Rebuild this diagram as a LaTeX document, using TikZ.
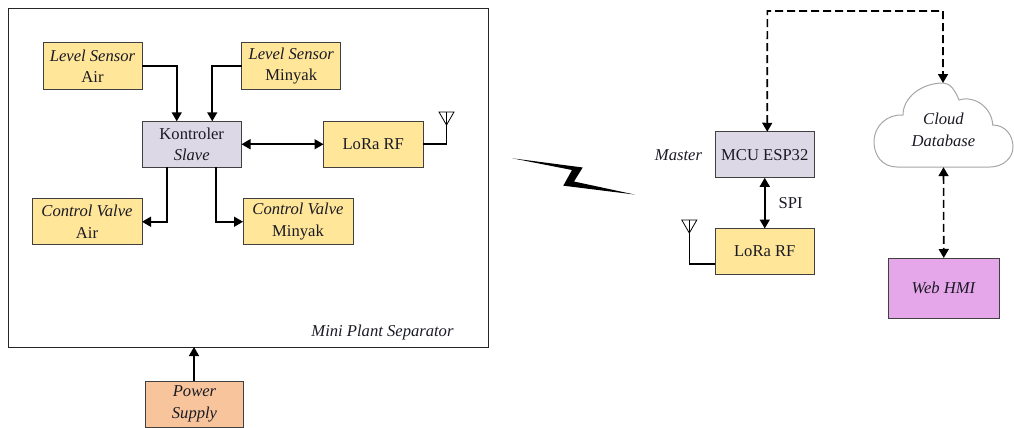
\documentclass[tikz,border=0pt]{standalone}
\usepackage{fontspec}
\setmainfont{Liberation Serif}
\usetikzlibrary{calc,arrows.meta}
\definecolor{boxyellow}{HTML}{FFE699}
\definecolor{boxlilac}{HTML}{DDD8E6}
\definecolor{boxorange}{HTML}{F8C49C}
\definecolor{boxpink}{HTML}{E6A6EA}
\definecolor{boxline}{HTML}{404040}
\definecolor{inktext}{HTML}{1A1A24}
\tikzset{
      tip/.tip={Triangle[length=9pt,width=10pt]},
      block/.style={draw=boxline, line width=1pt, inner sep=0pt, outer sep=0pt, align=center,
                  font=\fontsize{16.6}{21.5}\selectfont, text=inktext},
      sensor/.style={block, fill=boxyellow, minimum height=46pt},
      controller/.style={block, fill=boxlilac, minimum width=99.5pt, minimum height=46pt},
      link/.style={line width=1.6pt, -tip},
      duplex/.style={line width=1.6pt, tip-tip},
      netduplex/.style={duplex, dash pattern=on 8pt off 4pt},
      caption/.style={font=\fontsize{16.6}{21.5}\selectfont, text=inktext, inner sep=0pt, align=center}
}
\begin{document}
\begin{tikzpicture}[x=1pt,y=-1pt]
      \useasboundingbox (0,0) rectangle (1014,428);
      % plant side
      \node[draw=black!85, line width=1pt, minimum width=479.5pt, minimum height=338.5pt, inner sep=0pt, outer sep=0pt] (plant) at (248.25,177.75) {};
      \node[caption] (plantname) at (382.5,333) {\textit{Mini Plant Separator}};
      \node[sensor, minimum width=99pt] (lsair) at (92.5,66) {\textit{Level Sensor}\\Air};
      \node[sensor, minimum width=99pt] (lsminyak) at (291.25,66) {\textit{Level Sensor}\\Minyak};
      \node[controller] (slave) at (191.75,144.25) {Kontroler\\\textit{Slave}};
      \node[sensor, minimum width=99.5pt] (loraslave) at (373.25,144.25) {LoRa RF};
      \node[sensor, minimum width=110pt] (cvair) at (87,221.75) {\textit{Control Valve}\\Air};
      \node[sensor, minimum width=110pt] (cvminyak) at (298,221.75) {\textit{Control Valve}\\Minyak};
      \node[block, fill=boxorange, minimum width=97.5pt, minimum height=46pt] (power) at (194.5,404) {\textit{Power}\\\textit{Supply}};

      \draw[link] (lsair.east) -| ([xshift=-15pt]slave.north);
      \draw[link] (lsminyak.west) -| ([xshift=20.5pt]slave.north);
      \draw[duplex] (slave.east) -- (loraslave.west);
      \draw[link] ([xshift=-24.5pt]slave.south) |- (cvair.east);
      \draw[link] ([xshift=24.5pt]slave.south) |- (cvminyak.west);
      \draw[link] ([xshift=-0.5pt]power.north) -- ([xshift=-0.5pt]power.north |- plant.south);

      % antenna of the slave
      \coordinate (antslave) at (446.5,112);
      \draw[line width=1.6pt] (loraslave.east) -| (antslave);
      \draw[line width=0.8pt] (antslave) ++(-7.5,0) -- ++(15,0) -- ++(-7.5,13) -- cycle;

      % radio link
      \fill (512.3,158.3) -- (582.7,167.5) -- (574,181.5) -- (634.5,194.5) -- (563.3,185.7) -- (572,170) -- cycle;

      % master side
      \node[controller] (master) at (764.75,154.75) {MCU ESP32};
      \node[sensor, minimum width=99.5pt] (loramaster) at (764.75,251.5) {LoRa RF};
      \node[caption] (mastername) at (678.5,155.5) {\textit{Master}};
      \draw[duplex] (master.south) -- node[caption, right=13pt] (spi) {SPI} (loramaster.north);

      % antenna of the master
      \coordinate (antmaster) at (689.3,220);
      \draw[line width=1.6pt] ([yshift=-12.5pt]loramaster.west) -| (antmaster);
      \draw[line width=0.8pt] (antmaster) ++(-7.5,0) -- ++(15,0) -- ++(-7.5,13) -- cycle;

      % cloud
      \draw[draw=black!35, line width=1pt, fill=white] (897,167) .. controls (882,167) and (874,155) .. (874,142)
            .. controls (874,125) and (888,114) .. (903,115) .. controls (903,97) and (922,83) .. (943,83)
            .. controls (950,83) and (955,90) .. (959,100) .. controls (975,95) and (992,108) .. (992.7,125)
            .. controls (1005,125) and (1013,135) .. (1013,147) .. controls (1013,158) and (1003,167) .. (990,167) -- cycle;
      \node[caption, minimum width=139pt, minimum height=74pt] (cloud) at (943.5,130) {\textit{Cloud}\\\textit{Database}};
      \coordinate (cloudtop) at (943,83);
      \coordinate (corner) at (767.3,11);
      \node[block, fill=boxpink, minimum width=110.5pt, minimum height=60pt] (hmi) at (943.75,288) {\textit{Web HMI}};

      \draw[netduplex] ([xshift=2.5pt]master.north) -- (corner) -| (cloudtop);
      \draw[netduplex] (cloud.south) -- (hmi.north);
\end{tikzpicture}
\end{document}
